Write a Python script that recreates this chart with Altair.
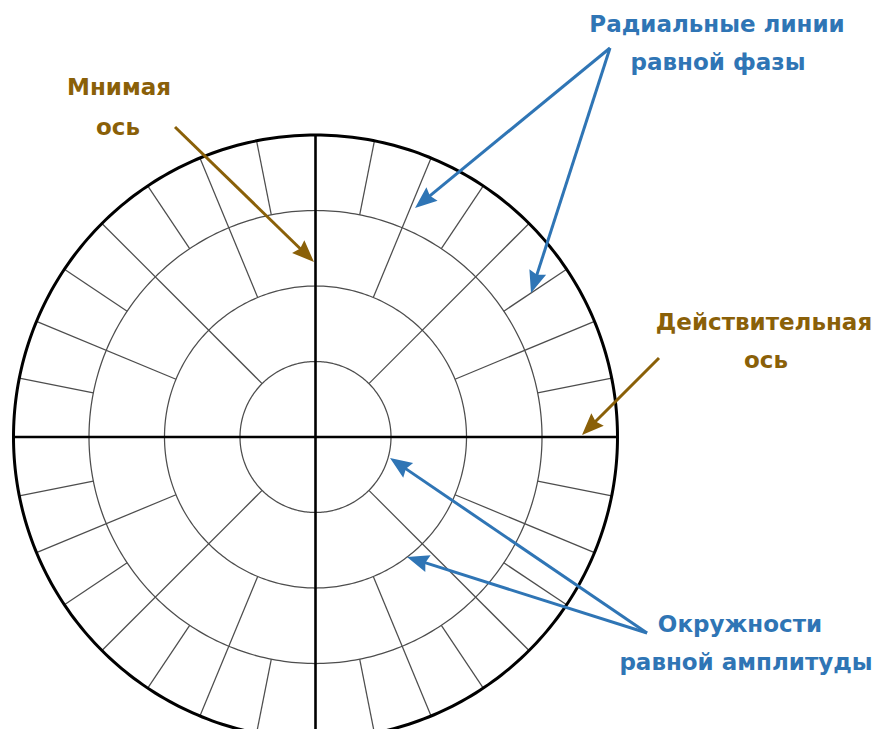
import math
import altair as alt
import pandas as pd

# ---- geometry of the polar grid (image pixel units) ----
CX, CY = 315.5, 437.0
ring_radii = [75.5, 151.0, 226.5, 302.0]
# radial spokes: angular step (deg) and the ring they start from
spoke_steps = [45.0, 22.5, 11.25]
spoke_start = [75.5, 151.0, 226.5]

# ---- annotations ----
label_text = ["Радиальные линии", "равной фазы", "Мнимая", "ось",
              "Действительная", "ось", "Окружности", "равной амплитуды"]
label_x = [717, 718, 119, 118, 764, 766, 740, 746]
label_y = [25, 63, 88, 128, 323, 361, 625, 663]
label_kind = ["phase", "phase", "axis", "axis", "axis", "axis", "amp", "amp"]

arrow_x0 = [175, 659, 610, 610, 647, 647]
arrow_y0 = [127, 358, 48, 48, 633, 633]
arrow_x1 = [314, 582, 415, 531, 390, 407]
arrow_y1 = [262, 435, 208, 293, 458, 557]
arrow_kind = ["axis", "axis", "phase", "phase", "amp", "amp"]

BROWN = "#8a6008"
BLUE = "#2f75b5"
kind_color = {"axis": BROWN, "phase": BLUE, "amp": BLUE}

R_OUT = ring_radii[-1]

# ---- build tables ----
ring_rows = []
for i, r in enumerate(ring_radii):
    for k in range(0, 361):
        a = math.radians(k)
        ring_rows.append({"ring": i, "ord": k,
                          "x": CX + r * math.cos(a), "y": CY - r * math.sin(a),
                          "outer": i == len(ring_radii) - 1})
rings = pd.DataFrame(ring_rows)

spoke_rows = []
for step, r0 in zip(spoke_steps, spoke_start):
    n = int(round(360 / step))
    for k in range(n):
        if k % 2 == 0:
            continue
        a = math.radians(k * step)
        spoke_rows.append({"x": CX + r0 * math.cos(a), "y": CY - r0 * math.sin(a),
                           "x2": CX + R_OUT * math.cos(a), "y2": CY - R_OUT * math.sin(a)})
spokes = pd.DataFrame(spoke_rows)

axes_df = pd.DataFrame({"x": [CX - R_OUT, CX], "y": [CY, CY - R_OUT],
                        "x2": [CX + R_OUT, CX], "y2": [CY, CY + R_OUT]})

HEAD = 22.0
arr_rows = []
for x0, y0, x1, y1, kd in zip(arrow_x0, arrow_y0, arrow_x1, arrow_y1, arrow_kind):
    dx, dy = x1 - x0, y1 - y0
    L = math.hypot(dx, dy)
    ux, uy = dx / L, dy / L
    ang = math.degrees(math.atan2(dx, -dy)) % 360
    arr_rows.append({"x": x0, "y": y0,
                     "x2": x1 - ux * (HEAD - 4), "y2": y1 - uy * (HEAD - 4),
                     "hx": x1 - ux * HEAD / 2, "hy": y1 - uy * HEAD / 2,
                     "ang": ang, "col": kind_color[kd]})
arrows = pd.DataFrame(arr_rows)

labels = pd.DataFrame({"t": label_text, "x": label_x, "y": label_y,
                       "col": [kind_color[k] for k in label_kind]})

xs = alt.Scale(domain=[8, 872], nice=False, zero=False)
ys = alt.Scale(domain=[729, 8], nice=False, zero=False)

def X(f="x"):
    return alt.X(f + ":Q", scale=xs, axis=None)

def Y(f="y"):
    return alt.Y(f + ":Q", scale=ys, axis=None)

inner_rings = alt.Chart(rings[~rings.outer]).mark_line(
    stroke="#4d4d4d", strokeWidth=1.25, clip=True
).encode(x=X(), y=Y(), detail="ring:N", order="ord:Q")

spoke_layer = alt.Chart(spokes).mark_rule(
    stroke="#4d4d4d", strokeWidth=1.25, clip=True
).encode(x=X(), y=Y(), x2="x2:Q", y2="y2:Q")

outer_ring = alt.Chart(rings[rings.outer]).mark_line(
    stroke="#000000", strokeWidth=3, clip=True
).encode(x=X(), y=Y(), order="ord:Q")

axis_layer = alt.Chart(axes_df).mark_rule(
    stroke="#000000", strokeWidth=2.6, clip=True
).encode(x=X(), y=Y(), x2="x2:Q", y2="y2:Q")

arrow_lines = alt.Chart(arrows).mark_rule(strokeWidth=3).encode(
    x=X(), y=Y(), x2="x2:Q", y2="y2:Q",
    color=alt.Color("col:N", scale=None))

arrow_heads = alt.Chart(arrows).mark_point(
    shape="M0,-1L0.8,1L0,0.75L-0.8,1Z", filled=True, opacity=1, strokeWidth=0
).encode(x=X("hx"), y=Y("hy"),
         angle=alt.Angle("ang:Q", scale=None),
         size=alt.value(HEAD * HEAD),
         color=alt.Color("col:N", scale=None))

text_layer = alt.Chart(labels).mark_text(
    font="DejaVu Sans", fontWeight="bold", fontSize=23, baseline="middle", align="center"
).encode(x=X(), y=Y(), text="t:N", color=alt.Color("col:N", scale=None))

chart = alt.layer(inner_rings, spoke_layer, outer_ring, axis_layer,
                  arrow_lines, arrow_heads, text_layer).properties(
    width=864, height=721,
    autosize=alt.AutoSizeParams(type="none"),
    padding=0,
    background="white",
).configure_view(strokeWidth=0, stroke="transparent")

chart.save("out.html", embed_options={"renderer": "svg", "actions": False})
